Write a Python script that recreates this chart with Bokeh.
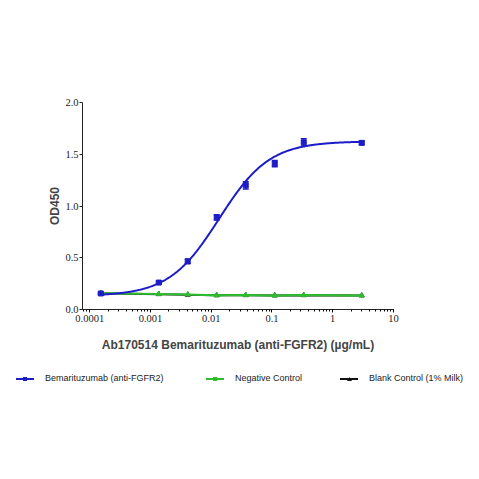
import numpy as np
from bokeh.plotting import figure
from bokeh.layouts import column
from bokeh.models import (ColumnDataSource, Whisker, TeeHead, Div,
                          CustomJSTickFormatter, PrintfTickFormatter, FixedTicker, LogTicker)
from bokeh.embed import file_html
from bokeh.resources import INLINE

# ---- data ----
conc = [3.0, 0.333, 0.111, 0.037, 0.0123, 0.0041, 0.00137, 0.000152]
bema_od = [1.61, 1.615, 1.41, 1.20, 0.89, 0.465, 0.26, 0.155]
bema_err = [0.015, 0.035, 0.03, 0.035, 0.025, 0.02, 0.01, 0.005]
neg_od = [0.135, 0.14, 0.135, 0.14, 0.137, 0.145, 0.15, 0.157]
blank_od = [0.135, 0.138, 0.135, 0.138, 0.137, 0.142, 0.148, 0.157]
# 4-parameter logistic fit of the Bemarituzumab series
fit_bottom, fit_top, fit_ec50, fit_hill = 0.13, 1.625, 0.0135, 1.05

y_ticks = [0.0, 0.5, 1.0, 1.5, 2.0]
legend_labels = ["Bemarituzumab (anti-FGFR2)", "Negative Control", "Blank Control (1% Milk)"]

BLUE = "#1c1cc8"
GREEN = "#2ebd2e"
BLACK = "#111111"

p = figure(width=463, height=360, x_axis_type="log", x_range=(7.6e-5, 10), y_range=(0, 2),
           output_backend="svg", toolbar_location=None,
           min_border_left=82, min_border_right=70, min_border_top=102, min_border_bottom=51)
p.outline_line_color = None
p.xgrid.grid_line_color = None
p.ygrid.grid_line_color = None

# fitted curve
xf = np.logspace(np.log10(conc[-1]), np.log10(conc[0]), 300)
yf = fit_bottom + (fit_top - fit_bottom) / (1 + (fit_ec50 / xf) ** fit_hill)

src = ColumnDataSource(dict(x=conc, y=bema_od,
                            lo=[v - e for v, e in zip(bema_od, bema_err)],
                            hi=[v + e for v, e in zip(bema_od, bema_err)]))

p.line(conc, blank_od, line_color=BLACK, line_width=2)
p.scatter(conc, blank_od, marker="triangle", size=5, color=BLACK)

p.line(conc, neg_od, line_color=GREEN, line_width=2.2)
p.scatter(conc, neg_od, marker="triangle", size=5, color=GREEN)

p.line(xf, yf, line_color=BLUE, line_width=2)
w = Whisker(source=src, base="x", lower="lo", upper="hi", line_color=BLUE, line_width=1.5,
            upper_head=TeeHead(size=6, line_color=BLUE, line_width=1.5),
            lower_head=TeeHead(size=6, line_color=BLUE, line_width=1.5))
p.add_layout(w)
p.scatter("x", "y", source=src, marker="square", size=5, color=BLUE)

# axes
xa = p.xaxis[0]
xa.ticker = LogTicker(desired_num_ticks=6, num_minor_ticks=10)
xa.formatter = CustomJSTickFormatter(code="return Number(tick.toPrecision(1)).toString();")
xa.axis_label = "Ab170514 Bemarituzumab (anti-FGFR2) (\u00b5g/mL)"
xa.axis_label_text_font = "Liberation Sans"
xa.axis_label_text_font_style = "bold"
xa.axis_label_text_font_size = "12px"
xa.axis_label_standoff = 13
xa.major_label_standoff = 2

ya = p.yaxis[0]
ya.ticker = FixedTicker(ticks=y_ticks)
ya.formatter = PrintfTickFormatter(format="%.1f")
ya.axis_label = "OD450"
ya.axis_label_text_font = "Liberation Sans"
ya.axis_label_text_font_style = "bold"
ya.axis_label_text_font_size = "12px"
ya.axis_label_standoff = 0
ya.minor_tick_line_color = None
ya.major_label_standoff = 1

for ax in (xa, ya):
    ax.axis_line_color = "#222222"
    ax.axis_line_width = 1
    ax.major_tick_line_color = "#222222"
    ax.major_tick_in = 0
    ax.major_tick_out = 3
    ax.minor_tick_in = 0
    ax.minor_tick_out = 2
    ax.major_label_text_font = "Liberation Serif"
    ax.major_label_text_font_size = "10.5px"
    ax.major_label_text_color = "#222222"

# legend strip below the chart (HTML)
colors = [BLUE, GREEN, BLACK]
marker_css = ["width:4px;height:4px;", "width:4px;height:4px;",
              "width:5px;height:4px;clip-path:polygon(50% 0,100% 100%,0 100%);"]
legend_x = [16, 206, 340]
parts = []
for lab, c, mc, lx in zip(legend_labels, colors, marker_css, legend_x):
    parts.append(
        f'<span style="position:absolute;left:{lx}px;top:18px;width:18px;height:2px;background:{c};"></span>'
        f'<span style="position:absolute;left:{lx + 7}px;top:17px;{mc}background:{c};"></span>'
        f'<span style="position:absolute;left:{lx + 29}px;top:13px;font-family:\'Liberation Sans\';'
        f'font-size:9px;line-height:10px;color:#222;white-space:nowrap;">{lab}</span>'
    )
legend_div = Div(text='<div style="position:relative;width:463px;height:40px;">' + "".join(parts) + "</div>",
                 width=463, height=40, margin=0)

open("out.html", "w").write(file_html(column(p, legend_div, spacing=0), INLINE))
